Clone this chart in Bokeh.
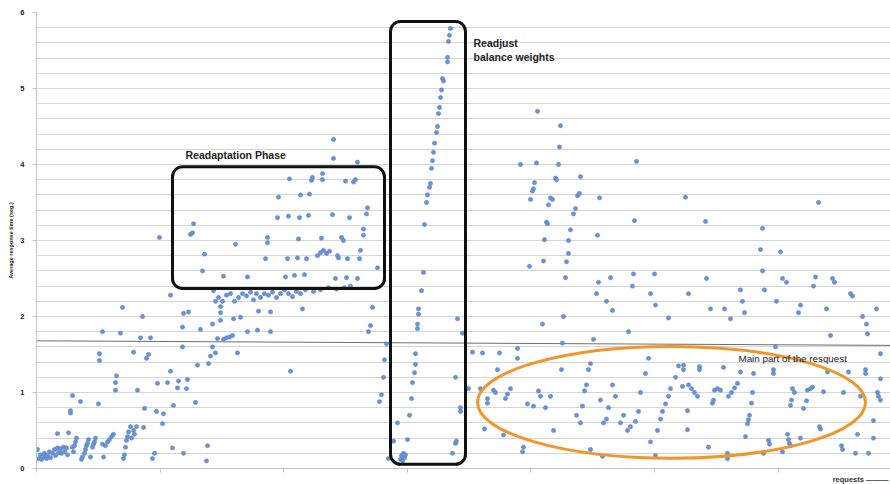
from bokeh.plotting import figure
from bokeh.models import BoxAnnotation, Label, FixedTicker, Range1d, Title
from bokeh.embed import file_html
from bokeh.resources import INLINE

# ---------------- data (request index, average response time in s) ----------------
warm_x = [1, 2, 4, 5, 7, 8, 10, 11, 13, 14, 16, 18, 19, 21, 22, 24, 25, 27, 28, 30, 31, 21, 32, 34, 34,
          36, 36, 37, 38, 39, 40, 44, 45, 46, 48, 49, 50, 51, 52, 54, 56, 57, 58, 59, 62, 63, 63, 66, 67,
          66, 69, 71, 73, 75, 77, 79, 79, 80, 84, 86, 87, 88, 89, 90, 91, 92, 94, 95, 97, 98, 100, 97,
          101, 104, 106, 107, 108, 110, 112, 114, 116, 118, 120, 121, 126, 127, 131, 134, 136, 137, 141,
          142, 146, 146, 147, 147, 151, 150, 152, 159, 161, 164, 170, 171, 172, 174, 176, 179, 176, 181,
          184, 184, 184, 187, 190, 193, 196, 201, 197, 204, 211]
warm_y = [0.25, 0.13, 0.18, 0.12, 0.15, 0.20, 0.13, 0.17, 0.22, 0.14, 0.20, 0.25, 0.17, 0.27, 0.21, 0.26,
          0.20, 0.28, 0.22, 0.27, 0.18, 0.46, 0.47, 0.76, 0.73, 0.96, 0.28, 0.22, 0.30, 0.35, 0.40, 0.88,
          0.12, 0.15, 0.20, 0.25, 0.30, 0.33, 0.38, 0.15, 0.28, 0.32, 0.35, 0.40, 0.85, 1.42, 1.51, 1.80,
          0.15, 0.32, 0.30, 0.35, 0.38, 0.42, 0.45, 1.03, 1.13, 1.22, 1.78, 2.12, 0.13, 0.18, 0.28, 0.37,
          0.42, 0.48, 0.55, 0.40, 0.50, 0.45, 0.55, 1.53, 1.03, 1.72, 2.00, 0.54, 0.79, 1.45, 1.50, 1.72,
          0.13, 0.20, 0.75, 1.12, 0.59, 0.72, 1.13, 1.28, 0.27, 0.83, 1.06, 1.15, 1.86, 1.60, 2.04, 0.20,
          1.17, 1.05, 2.06, 0.87, 1.36, 1.83, 0.10, 0.30, 1.38, 1.48, 1.60, 1.52, 1.90, 1.71, 1.95, 2.05,
          2.13, 1.70, 1.72, 1.73, 1.75, 1.52, 1.97, 1.99, 1.80]

readapt_x = [123, 154, 156, 157, 168, 166, 187, 134, 177, 199, 211, 229, 231, 231, 242, 241, 253, 252,
             251, 261, 270, 249, 258, 263, 264, 273, 272, 262, 268, 276, 275, 286, 286, 285, 281, 284,
             287, 290, 293, 296, 297, 297, 302, 301, 299, 310, 321, 305, 307, 309, 317, 319, 313, 311,
             321, 323, 324, 327, 327, 330, 331, 341]
readapt_y = [3.04, 3.08, 3.10, 3.22, 2.82, 2.60, 2.53, 2.28, 2.34, 2.95, 2.52, 2.76, 3.04, 2.97, 3.57,
             3.30, 3.81, 3.32, 2.76, 2.77, 2.76, 2.52, 2.54, 3.30, 3.60, 3.61, 3.33, 3.02, 2.55, 3.83,
             3.79, 3.88, 3.80, 3.03, 2.80, 2.84, 2.87, 2.83, 2.86, 3.34, 4.08, 4.33, 2.77, 2.80, 2.50,
             2.51, 2.50, 3.04, 3.00, 3.78, 3.77, 3.80, 3.30, 2.76, 4.03, 2.76, 2.87, 3.07, 3.15, 3.35,
             3.43, 2.64]

band_x = [179, 182, 186, 190, 194, 198, 202, 206, 210, 214, 217, 220, 224, 228, 232, 236, 240, 244, 248,
          252, 256, 260, 264, 269, 277, 284, 292, 300, 308, 314, 266, 222, 234, 221, 234, 254, 336, 334,
          332, 350, 348, 347, 345, 343]
band_y = [2.20, 2.25, 2.20, 2.28, 2.30, 2.20, 2.25, 2.30, 2.27, 2.32, 2.22, 2.30, 2.25, 2.30, 2.28, 2.32,
          2.25, 2.30, 2.35, 2.30, 2.26, 2.33, 2.30, 2.35, 2.33, 2.35, 2.38, 2.36, 2.38, 2.40, 2.10, 2.07,
          2.06, 1.82, 1.80, 1.28, 2.12, 1.88, 1.80, 1.64, 1.43, 1.20, 0.97, 0.88]

readjust_x = [352, 357, 361, 364, 365, 366, 367, 368, 369, 371, 373, 375, 376, 378, 379, 379, 381, 381,
              382, 382, 385, 387, 388, 390, 391, 393, 394, 395, 396, 397, 398, 400, 401, 402, 403, 404,
              405, 406, 407, 411, 411, 412, 413, 414, 416, 419, 420, 419, 421, 424, 424, 426]
readjust_y = [0.13, 0.36, 0.60, 0.12, 0.17, 0.10, 0.20, 0.14, 0.18, 0.38, 0.70, 0.92, 1.13, 1.26, 1.37,
              1.51, 1.84, 1.90, 2.03, 2.10, 2.34, 2.58, 3.21, 3.50, 3.60, 3.70, 3.75, 3.95, 4.05, 4.16,
              4.28, 4.42, 4.50, 4.67, 4.75, 4.88, 4.98, 5.13, 5.10, 5.35, 5.41, 5.62, 5.70, 5.79, 0.20,
              0.33, 0.36, 1.20, 1.97, 0.80, 0.75, 1.78]

after_x = [432, 436, 446, 444, 451, 451, 448, 457, 459, 461, 463, 467, 469, 471, 474, 481, 481, 486, 487,
           491, 497, 502, 504, 506, 509, 514, 517, 525, 526, 527, 540, 544, 546, 548, 550, 552, 554, 554,
           557, 564, 566, 567, 570, 572, 576, 579, 584, 587, 591, 594, 599, 602, 604, 609, 612, 614, 619,
           621, 624, 626, 629, 632, 634, 639, 642,
           501, 524, 523, 484, 500, 522, 600, 544, 519, 520, 498, 497, 496, 494, 514, 516, 512, 541, 543,
           563, 649, 539, 537, 510, 511, 598, 534, 561, 508, 532, 532, 507, 530, 493, 529, 574, 597, 618]
after_y = [1.05, 1.53, 1.52, 1.05, 0.92, 0.86, 0.52, 1.03, 1.00, 1.30, 1.52, 0.44, 0.92, 0.98, 1.05, 1.58,
           1.45, 0.22, 0.28, 0.85, 0.82, 1.02, 0.95, 1.90, 0.80, 0.95, 0.50, 1.30, 1.65, 2.00, 0.70, 0.60,
           0.82, 1.02, 1.10, 1.30, 1.38, 0.25, 1.70, 0.90, 0.16, 0.60, 0.65, 0.80, 1.10, 0.95, 0.60, 0.70,
           0.50, 0.55, 0.62, 0.75, 1.00, 1.25, 1.45, 0.35, 0.17, 0.50, 0.65, 0.75, 0.85, 0.95, 1.05, 1.20,
           1.35,
           4.70, 4.51, 4.23, 4.00, 4.02, 4.00, 4.04, 3.84, 3.82, 3.80, 3.76, 3.68, 3.65, 3.54, 3.56, 3.54,
           3.47, 3.59, 3.62, 3.56, 3.57, 3.42, 3.35, 3.24, 3.22, 3.26, 3.14, 3.07, 3.01, 3.00, 2.83, 2.73,
           2.72, 2.66, 2.51, 2.51, 2.56, 2.56]

late_x = [560, 562, 570, 576, 592, 596, 614, 619, 632, 652, 669, 670, 674, 688, 694, 704, 706, 708, 726,
          724, 726, 728, 744, 746, 750, 740, 764, 762, 782, 779, 777, 796, 798, 790, 814, 816, 826, 830,
          840, 739, 794, 831, 844,
          647, 647, 663, 663, 687, 704, 717, 737, 737, 791, 812, 829, 829, 844, 646, 652, 655, 658, 661,
          678, 681, 684, 676, 677, 692, 695, 698, 701, 716, 715, 651, 756, 758, 754, 755, 771, 774, 776,
          770, 767, 787, 807, 824, 841, 842, 844, 713, 712, 711, 651, 709, 732, 733, 751, 752, 753, 754,
          764, 783, 784, 805, 806, 821, 837, 837, 672, 691, 691, 727, 746, 819, 832]
late_y = [2.30, 2.45, 2.20, 2.08, 1.80, 2.40, 2.30, 2.15, 1.98, 2.30, 3.25, 2.50, 2.10, 2.10, 1.97, 2.35,
          2.20, 2.05, 3.16, 2.88, 2.60, 2.35, 2.85, 2.50, 2.45, 2.20, 2.15, 2.05, 3.50, 2.52, 2.40, 2.50,
          2.45, 2.10, 2.30, 2.27, 2.00, 1.90, 2.10, 1.60, 1.75, 1.77, 1.51,
          1.36, 1.30, 1.34, 1.30, 1.33, 1.27, 1.25, 1.25, 1.30, 1.27, 1.27, 1.30, 1.25, 1.18, 1.08, 1.10,
          1.05, 1.00, 0.95, 1.03, 1.05, 1.03, 0.86, 0.90, 0.95, 1.00, 1.06, 1.12, 1.00, 0.86, 0.76, 1.05,
          1.00, 0.83, 0.90, 1.03, 1.05, 1.07, 0.89, 0.79, 1.01, 1.00, 0.95, 1.00, 0.95, 0.90, 0.70, 0.64,
          0.59, 0.51, 0.42, 0.37, 0.32, 0.45, 0.38, 0.33, 0.30, 0.40, 0.55, 0.52, 0.30, 0.25, 0.45, 0.63,
          0.40, 0.28, 0.20, 0.13, 0.20, 0.22, 0.20, 0.20]

trend_x = [0, 854]
trend_y = [1.68, 1.62]

y_ticks = [0, 1, 2, 3, 4, 5, 6]
x_ticks = [0, 124, 247, 371, 494, 618, 742]
grid_step = 0.2

# ---------------- figure ----------------
FONT = "Liberation Sans"
p = figure(width=890, height=484, output_backend="svg", toolbar_location=None,
           x_range=Range1d(0, 854), y_range=Range1d(0, 6.0),
           min_border_left=36, min_border_right=0, min_border_top=12, min_border_bottom=16)
p.title.visible = False
p.outline_line_color = None
p.background_fill_color = "white"
p.border_fill_color = "white"

p.xgrid.grid_line_color = None
p.ygrid.ticker = FixedTicker(ticks=[round(i * grid_step, 2) for i in range(0, 31)])
p.ygrid.grid_line_color = "#d6d6d6"
p.ygrid.grid_line_width = 1

p.yaxis.ticker = FixedTicker(ticks=y_ticks)
p.yaxis.axis_line_color = "#c4c4c4"
p.yaxis.major_tick_line_color = "#c4c4c4"
p.yaxis.major_tick_out = 4
p.yaxis.major_tick_in = 0
p.yaxis.minor_tick_line_color = None
p.yaxis.major_label_text_font = FONT
p.yaxis.major_label_text_font_style = "bold"
p.yaxis.major_label_text_font_size = "7.5px"
p.yaxis.major_label_text_color = "#222222"
p.yaxis.major_label_standoff = 8
p.yaxis.axis_label = "Average response time (seg.)"
p.yaxis.axis_label_text_font = FONT
p.yaxis.axis_label_text_font_style = "bold"
p.yaxis.axis_label_text_font_size = "5.5px"
p.yaxis.axis_label_text_color = "#222222"
p.yaxis.axis_label_standoff = 3

p.xaxis.ticker = FixedTicker(ticks=x_ticks)
p.xaxis.axis_line_color = "#c4c4c4"
p.xaxis.major_tick_line_color = "#c4c4c4"
p.xaxis.major_tick_out = 4
p.xaxis.major_tick_in = 0
p.xaxis.minor_tick_line_color = None
p.xaxis.major_label_text_font_size = "1px"
p.xaxis.major_label_text_color = None
p.xaxis.major_label_standoff = 0

# legend entry under the axis, right-aligned
p.add_layout(Title(text="requests \u2014\u2014\u2014", align="right", text_font=FONT,
                   text_font_style="bold", text_font_size="7.5px", text_color="#333333",
                   standoff=0, offset=2), "below")

# trend line
p.line(trend_x, trend_y, line_color="#6e6e6e", line_width=1)

# points
DOT = dict(size=4.3, fill_color="#6893d6", line_color="#5580c2", line_width=0.5)
for xs, ys in [(warm_x, warm_y), (readapt_x, readapt_y), (band_x, band_y),
               (readjust_x, readjust_y), (after_x, after_y), (late_x, late_y)]:
    p.scatter(xs, ys, **DOT)

# annotations
p.add_layout(BoxAnnotation(left=136, right=348, bottom=2.37, top=3.97, fill_alpha=0,
                           line_color="#111111", line_alpha=1, line_width=3, border_radius=10))
p.add_layout(BoxAnnotation(left=354, right=429, bottom=0.055, top=5.88, fill_alpha=0,
                           line_color="#111111", line_alpha=1, line_width=3, border_radius=10))
p.ellipse(x=[635], y=[0.87], width=388, height=1.47, fill_color=None,
          line_color="#F2952A", line_width=3)

TXT = dict(text_font=FONT, text_font_style="bold", text_font_size="10.5px",
           text_color="#222222", text_baseline="middle")
p.add_layout(Label(x=149, y=4.12, text="Readaptation Phase", **TXT))
p.add_layout(Label(x=437, y=5.6, text="Readjust", **TXT))
p.add_layout(Label(x=437, y=5.42, text="balance weights", **TXT))
p.add_layout(Label(x=702, y=1.45, text="Main part of the resquest", text_font=FONT,
                   text_font_size="9.8px", text_color="#222222", text_baseline="middle"))

open("out.html", "w").write(file_html(p, INLINE))
